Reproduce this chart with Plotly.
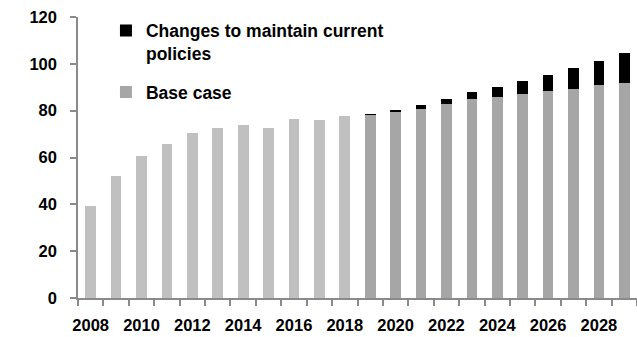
import plotly.graph_objects as go

# Annual values, 2008-2029
years = list(range(2008, 2030))
history_years = list(range(2008, 2019))
history = [39.3, 52.1, 60.8, 65.8, 70.6, 72.4, 73.9, 72.8, 76.6, 76.1, 77.8]
proj_years = list(range(2019, 2030))
base_case = [78.2, 79.5, 80.9, 82.9, 84.8, 85.9, 87.2, 88.5, 89.3, 90.9, 91.9]
policy_changes = [0.2, 0.5, 1.4, 2.1, 3.1, 4.3, 5.4, 6.8, 8.9, 10.4, 12.7]

label_years = list(range(2008, 2029, 2))
y_ticks = [0, 20, 40, 60, 80, 100, 120]

FONT = dict(family="Liberation Sans, Arial, sans-serif", size=16.5,
            color="#000000", weight="bold")
AXIS_GRAY = "#8a8a8a"
BAR_W = 0.42

fig = go.Figure()
fig.add_trace(go.Bar(x=history_years, y=history, width=BAR_W,
                     marker=dict(color="#c0c0c0", line=dict(width=0)),
                     showlegend=False, name="History"))
fig.add_trace(go.Bar(x=proj_years, y=base_case, width=BAR_W,
                     marker=dict(color="#a6a6a6", line=dict(width=0)),
                     name="Base case", legendgroup="b", legendrank=2))
fig.add_trace(go.Bar(x=proj_years, y=policy_changes, width=BAR_W,
                     marker=dict(color="#000000", line=dict(width=0)),
                     name="Changes to maintain current<br>policies",
                     legendgroup="a", legendrank=1))

fig.update_layout(
    barmode="stack",
    width=637, height=337,
    margin=dict(l=78, r=0, t=17, b=39),
    paper_bgcolor="white", plot_bgcolor="white",
    font=FONT,
    legend=dict(
        x=0.05, y=1.016, xanchor="left", yanchor="top",
        traceorder="grouped", tracegroupgap=13, valign="top",
        bgcolor="rgba(0,0,0,0)", font=dict(FONT, size=17.5),
    ),
    xaxis=dict(
        range=[2007.5, 2029.5],
        tickvals=label_years, ticktext=[str(y) for y in label_years],
        ticks="outside", ticklen=6, tickcolor="rgba(0,0,0,0)",
        minor=dict(tickvals=[y - 0.5 for y in years] + [2029.5],
                   ticks="outside", ticklen=6, tickcolor=AXIS_GRAY, tickwidth=1.5),
        showline=True, linecolor=AXIS_GRAY, linewidth=1.5,
        showgrid=False, zeroline=False,
        ticklabelstandoff=5,
    ),
    yaxis=dict(
        range=[0, 120], tickvals=y_ticks,
        ticks="outside", ticklen=6, tickcolor=AXIS_GRAY, tickwidth=1.5,
        showline=True, linecolor=AXIS_GRAY, linewidth=1.5,
        showgrid=False, zeroline=False,
        ticklabelstandoff=10,
    ),
)

fig.write_html("out.html")
